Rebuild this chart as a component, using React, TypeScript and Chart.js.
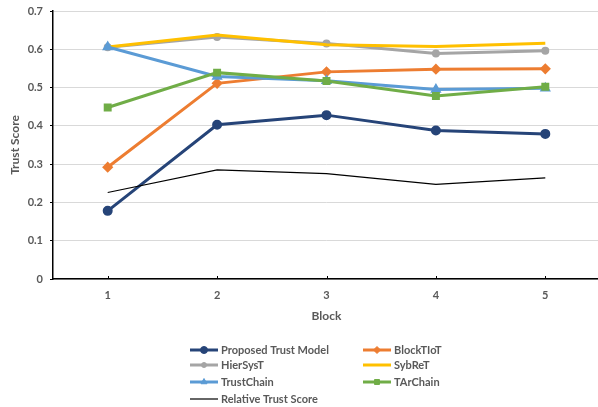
import React, { useEffect, useRef } from "react";
import { Chart, registerables } from "chart.js";
import { drawPoint } from "chart.js/helpers";

Chart.register(...registerables);

// Block indices along the x axis
const blocks = ["1", "2", "3", "4", "5"];

// Trust scores per model
const proposedTrustModel = [0.178, 0.403, 0.428, 0.388, 0.379];
const blockTIoT = [0.292, 0.511, 0.541, 0.548, 0.549];
const hierSysT = [0.605, 0.632, 0.615, 0.589, 0.596];
const sybReT = [0.606, 0.637, 0.612, 0.607, 0.616];
const trustChain = [0.606, 0.529, 0.518, 0.495, 0.498];
const tArChain = [0.448, 0.539, 0.517, 0.478, 0.502];
const relativeTrustScore = [0.226, 0.285, 0.275, 0.247, 0.264];

const yTicks = [0, 0.1, 0.2, 0.3, 0.4, 0.5, 0.6, 0.7];

const TEXT = "#595959";
const FONT = "Lato, 'Open Sans', sans-serif";

// Legend grid: [dataset index, column, row]
const legendSlots: [number, number, number][] = [
  [0, 0, 0],
  [1, 1, 0],
  [2, 0, 1],
  [3, 1, 1],
  [4, 0, 2],
  [5, 1, 2],
  [6, 0, 3],
];
const legendColX = [190, 363];
const legendRowY = [350, 365, 382, 399];

const gridLegend = {
  id: "gridLegend",
  afterDraw(chart: any) {
    const ctx = chart.ctx;
    ctx.save();
    ctx.font = `bold 11px ${FONT}`;
    ctx.textBaseline = "middle";
    ctx.textAlign = "left";
    for (const [di, col, row] of legendSlots) {
      const ds = chart.data.datasets[di];
      const x = legendColX[col];
      const y = legendRowY[row];
      ctx.strokeStyle = ds.borderColor;
      ctx.lineWidth = ds.borderWidth;
      ctx.beginPath();
      ctx.moveTo(x, y);
      ctx.lineTo(x + 28, y);
      ctx.stroke();
      if (ds.pointRadius > 0) {
        ctx.fillStyle = ds.pointBackgroundColor;
        ctx.strokeStyle = ds.pointBorderColor;
        ctx.lineWidth = 1;
        drawPoint(ctx, { pointStyle: ds.pointStyle, radius: ds.pointRadius, rotation: 0, borderWidth: 1 }, x + 14, y);
      }
      ctx.fillStyle = TEXT;
      ctx.fillText(ds.label, x + 31, y + 0.5);
    }
    ctx.restore();
  },
};

// Short inward tick marks on the category axis
const innerXTicks = {
  id: "innerXTicks",
  beforeDatasetsDraw(chart: any) {
    const x = chart.scales.x;
    const ctx = chart.ctx;
    ctx.save();
    ctx.strokeStyle = "#000";
    ctx.lineWidth = 1;
    for (let i = 0; i < blocks.length; i++) {
      const px = Math.round(x.getPixelForValue(i)) + 0.5;
      ctx.beginPath();
      ctx.moveTo(px, x.top);
      ctx.lineTo(px, x.top - 3);
      ctx.stroke();
    }
    ctx.restore();
  },
};

function series(label: string, data: number[], color: string, pointStyle: any, radius: number, width = 3) {
  return {
    label,
    data,
    borderColor: color,
    backgroundColor: color,
    pointBackgroundColor: color,
    pointBorderColor: color,
    borderWidth: width,
    pointStyle,
    pointRadius: radius,
    pointHoverRadius: radius,
    tension: 0,
    fill: false,
  };
}

export default function App() {
  const canvasRef = useRef<HTMLCanvasElement | null>(null);

  useEffect(() => {
    document.body.style.margin = "0";
    const canvas = canvasRef.current;
    if (!canvas) return;
    Chart.defaults.font.family = FONT;

    const datasets: any[] = [
      series("Proposed Trust Model", proposedTrustModel, "#264478", "circle", 3.5),
      series("BlockTIoT", blockTIoT, "#ED7D31", "rectRot", 3.5),
      series("HierSysT", hierSysT, "#A5A5A5", "circle", 2.5),
      series("SybReT", sybReT, "#FFC000", "circle", 0),
      series("TrustChain", trustChain, "#5B9BD5", "triangle", 3.5),
      series("TArChain", tArChain, "#70AD47", "rect", 3.5),
      series("Relative Trust Score", relativeTrustScore, "#000000", "circle", 0, 1.2),
    ];
    // later series are painted on top
    datasets.forEach((d, i) => (d.order = datasets.length - i));

    const chart = new Chart(canvas, {
      type: "line",
      data: { labels: blocks, datasets },
      options: {
        animation: false,
        responsive: false,
        devicePixelRatio: 1,
        layout: { autoPadding: false, padding: { top: 11, right: 0, bottom: 82, left: 0 } },
        plugins: {
          legend: { display: false },
          tooltip: { enabled: false },
        },
        scales: {
          x: {
            type: "category",
            offset: true,
            border: { display: true, color: "#000", width: 1.5 },
            grid: { display: true, drawOnChartArea: false, drawTicks: false, offset: false },
            ticks: { color: TEXT, font: { size: 11, weight: "bold" }, padding: 10 },
            title: {
              display: true,
              text: "Block",
              color: TEXT,
              font: { size: 12, weight: "bold" },
              padding: { top: 0, bottom: 2 },
            },
            afterFit(scale: any) {
              scale.height = 46;
              scale.paddingLeft = 0;
              scale.paddingRight = 0;
            },
          },
          y: {
            min: 0,
            max: 0.7,
            afterBuildTicks(scale: any) {
              scale.ticks = yTicks.map((v) => ({ value: v }));
            },
            border: { display: true, color: "#000", width: 1.5 },
            grid: { color: "#D9D9D9", lineWidth: 1, drawTicks: true, tickLength: 3, tickColor: "#000" },
            ticks: {
              color: TEXT,
              font: { size: 11, weight: "bold" },
              padding: 7,
              callback: (v: any) => String(Math.round(Number(v) * 10) / 10),
            },
            title: {
              display: true,
              text: "Trust Score",
              color: TEXT,
              font: { size: 12, weight: "bold" },
              padding: { top: 8, bottom: 0 },
            },
            afterFit(scale: any) {
              scale.width = 53;
              scale.paddingTop = 0;
              scale.paddingBottom = 0;
            },
          },
        },
      },
      plugins: [innerXTicks, gridLegend],
    });

    return () => chart.destroy();
  }, []);

  // the plot runs slightly past the right edge of the frame
  return (
    <div style={{ width: 598, height: 407, overflow: "hidden", background: "#fff" }}>
      <canvas ref={canvasRef} width={600} height={407} style={{ display: "block" }} />
    </div>
  );
}
